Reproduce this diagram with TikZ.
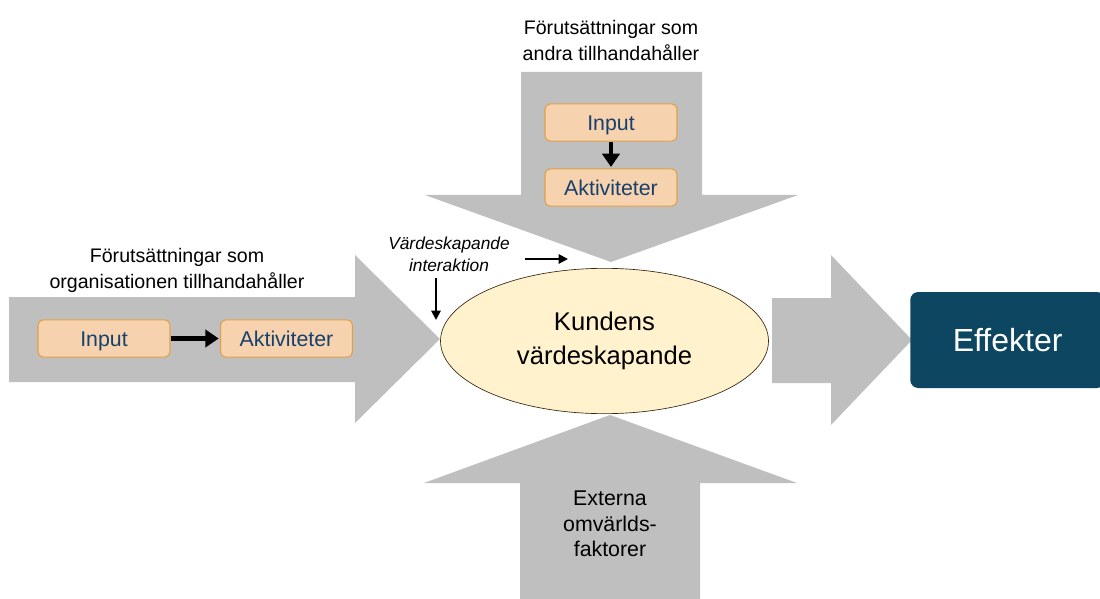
\documentclass[tikz,border=0pt]{standalone}
\usepackage{fontspec}
\setmainfont{Liberation Sans}
\usetikzlibrary{arrows.meta,shapes.geometric}

\definecolor{bigarrow}{HTML}{BFBFBF}
\definecolor{stepfill}{HTML}{F6D2AE}
\definecolor{stepline}{HTML}{E2A04A}
\definecolor{steptext}{HTML}{17406D}
\definecolor{corefill}{HTML}{FFF2CC}
\definecolor{effekt}{HTML}{0C4660}

\tikzset{
  stepbox/.style={draw=stepline, fill=stepfill, rounded corners=4pt, line width=0.8pt,
    minimum width=99pt, minimum height=28pt, text height=11.5pt, text depth=0pt,
    text=steptext, font=\fontsize{16}{19}\selectfont},
  flow/.style={line width=3.6pt, -{Triangle[length=10pt,width=13pt]}, shorten >=1pt},
  pointer/.style={line width=1.4pt, -{Triangle[length=7pt,width=7pt]}},
  caption/.style={align=center, font=\fontsize{14.7}{19.5}\selectfont},
}

\begin{document}
\begin{tikzpicture}[x=0.75pt, y=-0.75pt]
      \useasboundingbox (0,0) rectangle (1100,599);

      % the four big arrows
      \fill[bigarrow] (9,297) -- (355,297) -- (355,255) -- (440,339) -- (355,423) -- (355,382) -- (9,382) -- cycle;
      \fill[bigarrow] (521,72) -- (702,72) -- (702,195) -- (798,195) -- (611,262) -- (425,195) -- (521,195) -- cycle;
      \fill[bigarrow] (520,599) -- (520,483) -- (424,483) -- (610,415) -- (797,483) -- (700,483) -- (700,599) -- cycle;
      \fill[bigarrow] (772,298) -- (831,298) -- (831,255) -- (912,340) -- (831,425) -- (831,383) -- (772,383) -- cycle;

      % left input
      \node[caption] (orgtext) at (177,270){Förutsättningar som\\organisationen tillhandahåller};
      \node[stepbox] (orginput) at (104,338.5){Input};
      \node[stepbox] (orgakt) at (286.5,338.5){Aktiviteter};
      \draw[flow] (orginput) -- (orgakt);

      % top input
      \node[caption] (andratext) at (611,40){Förutsättningar som\\andra tillhandahåller};
      \node[stepbox] (andrainput) at (611,122.5){Input};
      \node[stepbox] (andraakt) at (611,187.5){Aktiviteter};
      \draw[flow] (andrainput) -- (andraakt);

      % centre
      \node[draw=black!70!brown, line width=0.5pt, fill=corefill, ellipse, minimum width=246pt, minimum height=109pt,
        align=center, font=\fontsize{19.2}{25.5}\selectfont] (kund) at (604.5,341){Kundens\\värdeskapande};

      \node[align=center, font=\fontsize{13}{16.5}\selectfont\itshape] (interaktion) at (449,254){Värdeskapande\\interaktion};
      \coordinate (downstart) at (436,278);
      \coordinate (downend) at (436,320);
      \coordinate (rightstart) at (525,259);
      \coordinate (rightend) at (568,259);
      \draw[pointer] (downstart) -- (downend);
      \draw[pointer] (rightstart) -- (rightend);

      % bottom
      \node[caption, font=\fontsize{16}{19}\selectfont] (extern) at (610,524){Externa\\omvärlds-\\faktorer};

      % right
      \node[fill=effekt, rounded corners=6pt, minimum width=146pt, minimum height=72pt, text=white,
        font=\fontsize{24}{28}\selectfont, anchor=west] (effekter) at (910,340){Effekter};
\end{tikzpicture}
\end{document}
